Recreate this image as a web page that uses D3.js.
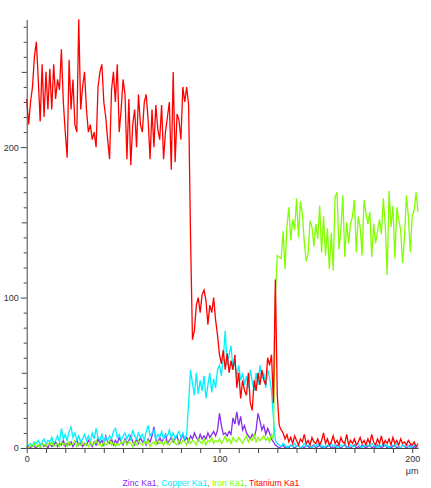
<!doctype html>
<html>
<head>
<meta charset="utf-8">
<title>Line scan</title>
<script src="https://cdnjs.cloudflare.com/ajax/libs/d3/7.8.5/d3.min.js"></script>
<style>
  body { margin: 0; background: #fff; }
  svg { display: block; font-family: "Liberation Sans", Arial, sans-serif; }
  .axis path, .axis line { stroke: #444; }
  .axis text { fill: #333; font-size: 9px; }
</style>
</head>
<body>
<svg width="431" height="488"></svg>
<script>
// one sample per micron, 0..203 um
var step = 1;

var zinc = [
  0, 1, 0, 2, 1, 0, 2, 1, 3, 1,
  2, 0, 3, 1, 2, 4, 1, 3, 2, 5,
  1, 3, 2, 4, 1, 3, 5, 2, 4, 1,
  3, 2, 5, 3, 1, 4, 2, 6, 3, 5,
  2, 8, 4, 3, 6, 2, 5, 3, 7, 4,
  2, 6, 3, 5, 8, 4, 2, 6, 3, 7,
  4, 5, 2, 6, 4, 8, 14, 5, 3, 7,
  4, 6, 9, 3, 5, 7, 4, 6, 8, 3,
  6, 9, 5, 7, 4, 8, 6, 10, 7, 5,
  9, 6, 8, 6, 10, 7, 9, 11, 8, 12,
  23, 15, 9, 10, 8, 11, 9, 20, 16, 24,
  15, 21, 12, 15, 10, 8, 6, 9, 7, 12,
  23, 18, 12, 15, 9, 13, 10, 6, 4, 2,
  1, 0, 1, 2, 0, 1, 0, 2, 1, 0,
  1, 2, 0, 1, 0, 2, 1, 0, 1, 2,
  0, 1, 2, 0, 1, 0, 1, 2, 0, 1,
  0, 2, 1, 0, 1, 2, 0, 1, 0, 1,
  2, 0, 1, 0, 2, 1, 0, 1, 2, 0,
  1, 0, 2, 1, 0, 1, 2, 0, 1, 0,
  1, 2, 0, 1, 0, 2, 1, 0, 1, 2,
  0, 1, 0, 1
];

var copper = [
  1, 2, 3, 2, 4, 3, 5, 2, 4, 6,
  3, 5, 4, 7, 3, 5, 8, 4, 13, 6,
  9, 5, 11, 14, 7, 10, 5, 8, 4, 6,
  9, 5, 8, 4, 10, 6, 13, 7, 5, 9,
  4, 7, 5, 8, 6, 11, 13, 7, 9, 5,
  8, 10, 6, 9, 5, 12, 8, 6, 10, 7,
  9, 5, 11, 15, 8, 10, 12, 6, 9, 7,
  11, 6, 9, 8, 12, 7, 10, 6, 9, 11,
  7, 10, 6, 9, 30, 52, 43, 35, 50, 36,
  45, 38, 48, 33, 42, 50, 37, 46, 40, 52,
  55, 48, 60, 78, 55, 62, 68, 52, 58, 47,
  55, 45, 50, 42, 48, 40, 52, 44, 38, 50,
  42, 55, 46, 50, 40, 52, 47, 38, 20, 5,
  3, 2, 1, 3, 2, 0, 1, 2, 1, 3,
  1, 2, 0, 1, 3, 1, 2, 1, 0, 2,
  1, 3, 1, 2, 0, 1, 2, 1, 3, 1,
  2, 0, 1, 2, 1, 3, 1, 0, 2, 1,
  1, 2, 3, 1, 0, 2, 1, 2, 1, 3,
  2, 1, 0, 2, 1, 3, 1, 2, 0, 1,
  2, 1, 3, 1, 0, 2, 1, 2, 1, 0,
  1, 2, 1, 0
];

var iron = [
  1, 0, 2, 1, 3, 1, 2, 0, 3, 2,
  1, 3, 2, 4, 1, 2, 3, 1, 4, 2,
  3, 1, 4, 2, 3, 5, 1, 3, 2, 4,
  2, 3, 1, 4, 2, 3, 5, 2, 3, 1,
  4, 2, 3, 5, 2, 4, 1, 3, 2, 4,
  3, 5, 2, 4, 3, 1, 4, 2, 5, 3,
  2, 4, 3, 5, 1, 3, 4, 2, 5, 3,
  4, 2, 5, 3, 2, 4, 6, 3, 2, 5,
  3, 5, 4, 2, 6, 3, 5, 4, 2, 6,
  4, 3, 6, 2, 5, 4, 7, 3, 5, 4,
  6, 3, 5, 8, 4, 6, 3, 7, 5, 4,
  7, 5, 3, 6, 8, 4, 6, 5, 9, 4,
  7, 5, 6, 8, 5, 7, 4, 9, 6, 100,
  128, 127, 126, 144, 119, 147, 160, 138, 152, 145,
  166, 140, 164, 156, 137, 124, 129, 151, 147, 134,
  149, 139, 161, 130, 154, 128, 146, 119, 143, 118,
  167, 170, 132, 145, 168, 127, 150, 136, 149, 154,
  165, 130, 154, 147, 128, 165, 156, 149, 157, 127,
  149, 136, 144, 152, 142, 166, 148, 115, 171, 147,
  161, 126, 160, 152, 145, 123, 140, 168, 154, 130,
  154, 158, 170, 157
];

var titanium = [
  232, 215, 230, 240, 260, 270, 245, 217, 255, 220,
  250, 225, 252, 225, 255, 232, 245, 238, 265, 230,
  210, 193, 258, 225, 245, 215, 210, 285, 225, 240,
  250, 225, 210, 215, 205, 210, 200, 240, 250, 255,
  230, 220, 205, 192, 238, 250, 230, 255, 210, 225,
  245, 235, 192, 232, 188, 215, 225, 200, 235, 215,
  210, 230, 235, 218, 192, 225, 200, 228, 212, 205,
  228, 192, 210, 220, 230, 185, 250, 190, 222, 218,
  205, 240, 230, 240, 228, 140, 72, 78, 95, 100,
  90, 102, 105, 98, 82, 95, 90, 100, 85, 75,
  62, 56, 65, 52, 63, 50, 58, 52, 62, 40,
  50, 33, 45, 38, 35, 50, 30, 25, 45, 38,
  50, 42, 52, 45, 42, 60, 55, 62, 30, 112,
  35, 15, 12, 10, 6, 9, 4, 7, 3, 8,
  5, 2, 6, 4, 9, 3, 5, 2, 7, 4,
  3, 6, 2, 5, 10, 3, 6, 2, 4, 8,
  3, 5, 2, 7, 4, 3, 9, 2, 5, 3,
  6, 2, 4, 7, 3, 5, 2, 6, 3, 9,
  4, 2, 6, 3, 8, 2, 5, 3, 6, 2,
  7, 3, 5, 2, 6, 3, 4, 2, 5, 3,
  2, 4, 1, 3
];

var seriesNames = ["Zinc Ka1", "Copper Ka1", "Iron Ka1", "Titanium Ka1"];
var seriesValues = [zinc, copper, iron, titanium];
var seriesColors = ["#8a2cf0", "#00f0ff", "#80ff00", "#ff0000"];
var xTickLabels = [0, 100, 200];
var yTickLabels = [0, 100, 200];

var svg = d3.select("svg");

var x = d3.scaleLinear().domain([0, 203]).range([26.7, 418]);
var y = d3.scaleLinear().domain([0, 284.5]).range([448, 20]);

var line = d3.line()
    .x(function (d, i) { return x(i * step); })
    .y(function (d) { return y(d); });

// traces, drawn in legend order so titanium ends up on top
svg.append("g").selectAll("path")
    .data(seriesValues)
    .enter().append("path")
    .attr("fill", "none")
    .attr("stroke", function (d, i) { return seriesColors[i]; })
    .attr("stroke-width", 1.3)
    .attr("stroke-linejoin", "miter")
    .attr("d", line);

// y axis: minor every 10, medium at 50s, labels at 100s
var yAxis = svg.append("g")
    .attr("class", "axis")
    .attr("transform", "translate(26.7,0)")
    .call(d3.axisLeft(y)
        .tickValues(d3.range(0, 290, 10))
        .tickSizeOuter(0)
        .tickFormat(function (d) { return yTickLabels.indexOf(d) >= 0 ? d : ""; }));
yAxis.selectAll(".tick line")
    .attr("x2", function (d) { return d % 100 === 0 ? -6 : (d % 50 === 0 ? -5 : -3); });
yAxis.selectAll(".tick text").attr("x", -8);
yAxis.select(".domain").attr("d", "M0.5," + y(0) + "V20");

// x axis
var xAxis = svg.append("g")
    .attr("class", "axis")
    .attr("transform", "translate(0,448)")
    .call(d3.axisBottom(x)
        .tickValues(d3.range(0, 210, 10))
        .tickSize(5)
        .tickSizeOuter(0)
        .tickFormat(function (d) { return xTickLabels.indexOf(d) >= 0 ? d : ""; }));
xAxis.selectAll(".tick text").attr("y", 8);

svg.append("text")
    .attr("x", x(200))
    .attr("y", 474)
    .attr("text-anchor", "middle")
    .attr("fill", "#333")
    .style("font-size", "9px")
    .text("μm");

// legend line under the plot
var legend = svg.append("text")
    .attr("x", 211)
    .attr("y", 486)
    .attr("text-anchor", "middle")
    .style("font-size", "8.6px");
seriesNames.forEach(function (name, i) {
    if (i > 0) legend.append("tspan").attr("fill", "#777").text(", ");
    legend.append("tspan").attr("fill", seriesColors[i]).text(name);
});
</script>
</body>
</html>
